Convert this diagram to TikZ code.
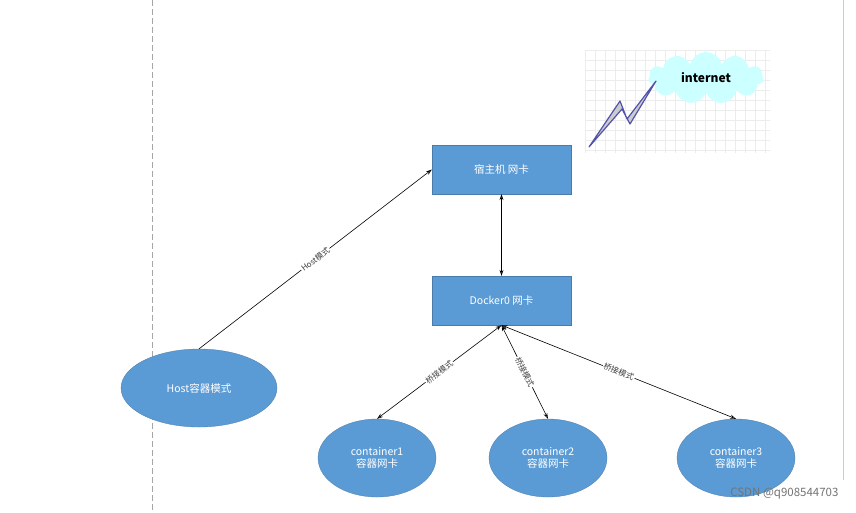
\documentclass[tikz,border=0pt]{standalone}
\usepackage{fontspec}
\setmainfont{Noto Sans CJK SC}
\usetikzlibrary{shapes.geometric,shapes.symbols,arrows.meta}
\definecolor{boxblue}{HTML}{5B9BD5}
\definecolor{cloudc}{HTML}{CCFFFF}
\begin{document}
\begin{tikzpicture}[x=1pt,y=-1pt,
  box/.style={draw=boxblue!80!black,line width=0.3pt,fill=boxblue,text=white,minimum width=139pt,minimum height=49pt,font=\fontsize{10.5}{12}\selectfont},
  ell/.style={ellipse,draw=boxblue!80!black,line width=0.3pt,fill=boxblue,text=white,align=center,font=\fontsize{10.5}{12}\selectfont},
  con/.style={line width=0.6pt,-{Stealth[length=6pt,width=4pt,open]}},
  dcon/.style={con,{Stealth[length=6pt,width=4pt,open]}-{Stealth[length=6pt,width=4pt,open]}},
  lab/.style={midway,sloped,fill=white,inner sep=1pt,text=black!75,font=\fontsize{8}{9}\selectfont}]
\useasboundingbox (0,0) rectangle (856,512);
\fill[white] (0,0) rectangle (856,512);
\draw[gray!70,dashed,dash pattern=on 6pt off 3pt] (152,0) -- (152,512);
\draw[gray!40] (843,0) -- (843,480);
\begin{scope}
\clip (585,50) rectangle (770,152);
\draw[gray!15,step=10pt,shift={(585,50)}] (0,0) grid (190,110);
\end{scope}
\node[cloud,cloud puffs=11,aspect=2.3,fill=cloudc,draw=none,minimum width=115pt,minimum height=52pt,font=\bfseries\fontsize{12}{14}\selectfont] (inet) at (706,78) {internet};
\draw[fill=gray!40,draw=blue!35!gray,line width=1.2pt,line join=round] (589,147) -- (620,101) -- (627,119) -- (656,81) -- (630,124) -- (622,109) -- cycle;
\node[box] (host) at (501.5,169.5) {宿主机 网卡};
\node[box] (dock) at (501.5,300.5) {Docker0 网卡};
\node[ell,minimum width=156pt,minimum height=78pt] (hm) at (199,388) {Host容器模式};
\node[ell,minimum width=118pt,minimum height=78pt] (c1) at (377,458) {container1\\容器网卡};
\node[ell,minimum width=118pt,minimum height=78pt] (c2) at (548,458) {container2\\容器网卡};
\node[ell,minimum width=118pt,minimum height=78pt] (c3) at (736,458) {container3\\容器网卡};
\draw[con] (hm.north) -- node[lab]{Host模式} (host.west);
\draw[dcon] (host.south) -- (dock.north);
\draw[dcon] (dock.south) -- node[lab]{桥接模式} (c1.north);
\draw[dcon] (dock.south) -- node[lab]{桥接模式} (c2.north);
\draw[dcon] (dock.south) -- node[lab]{桥接模式} (c3.north);
\node[text=gray!90!black,font=\fontsize{11.5}{13}\selectfont,anchor=east] (wm) at (842,494) {CSDN @q908544703};
\end{tikzpicture}
\end{document}
